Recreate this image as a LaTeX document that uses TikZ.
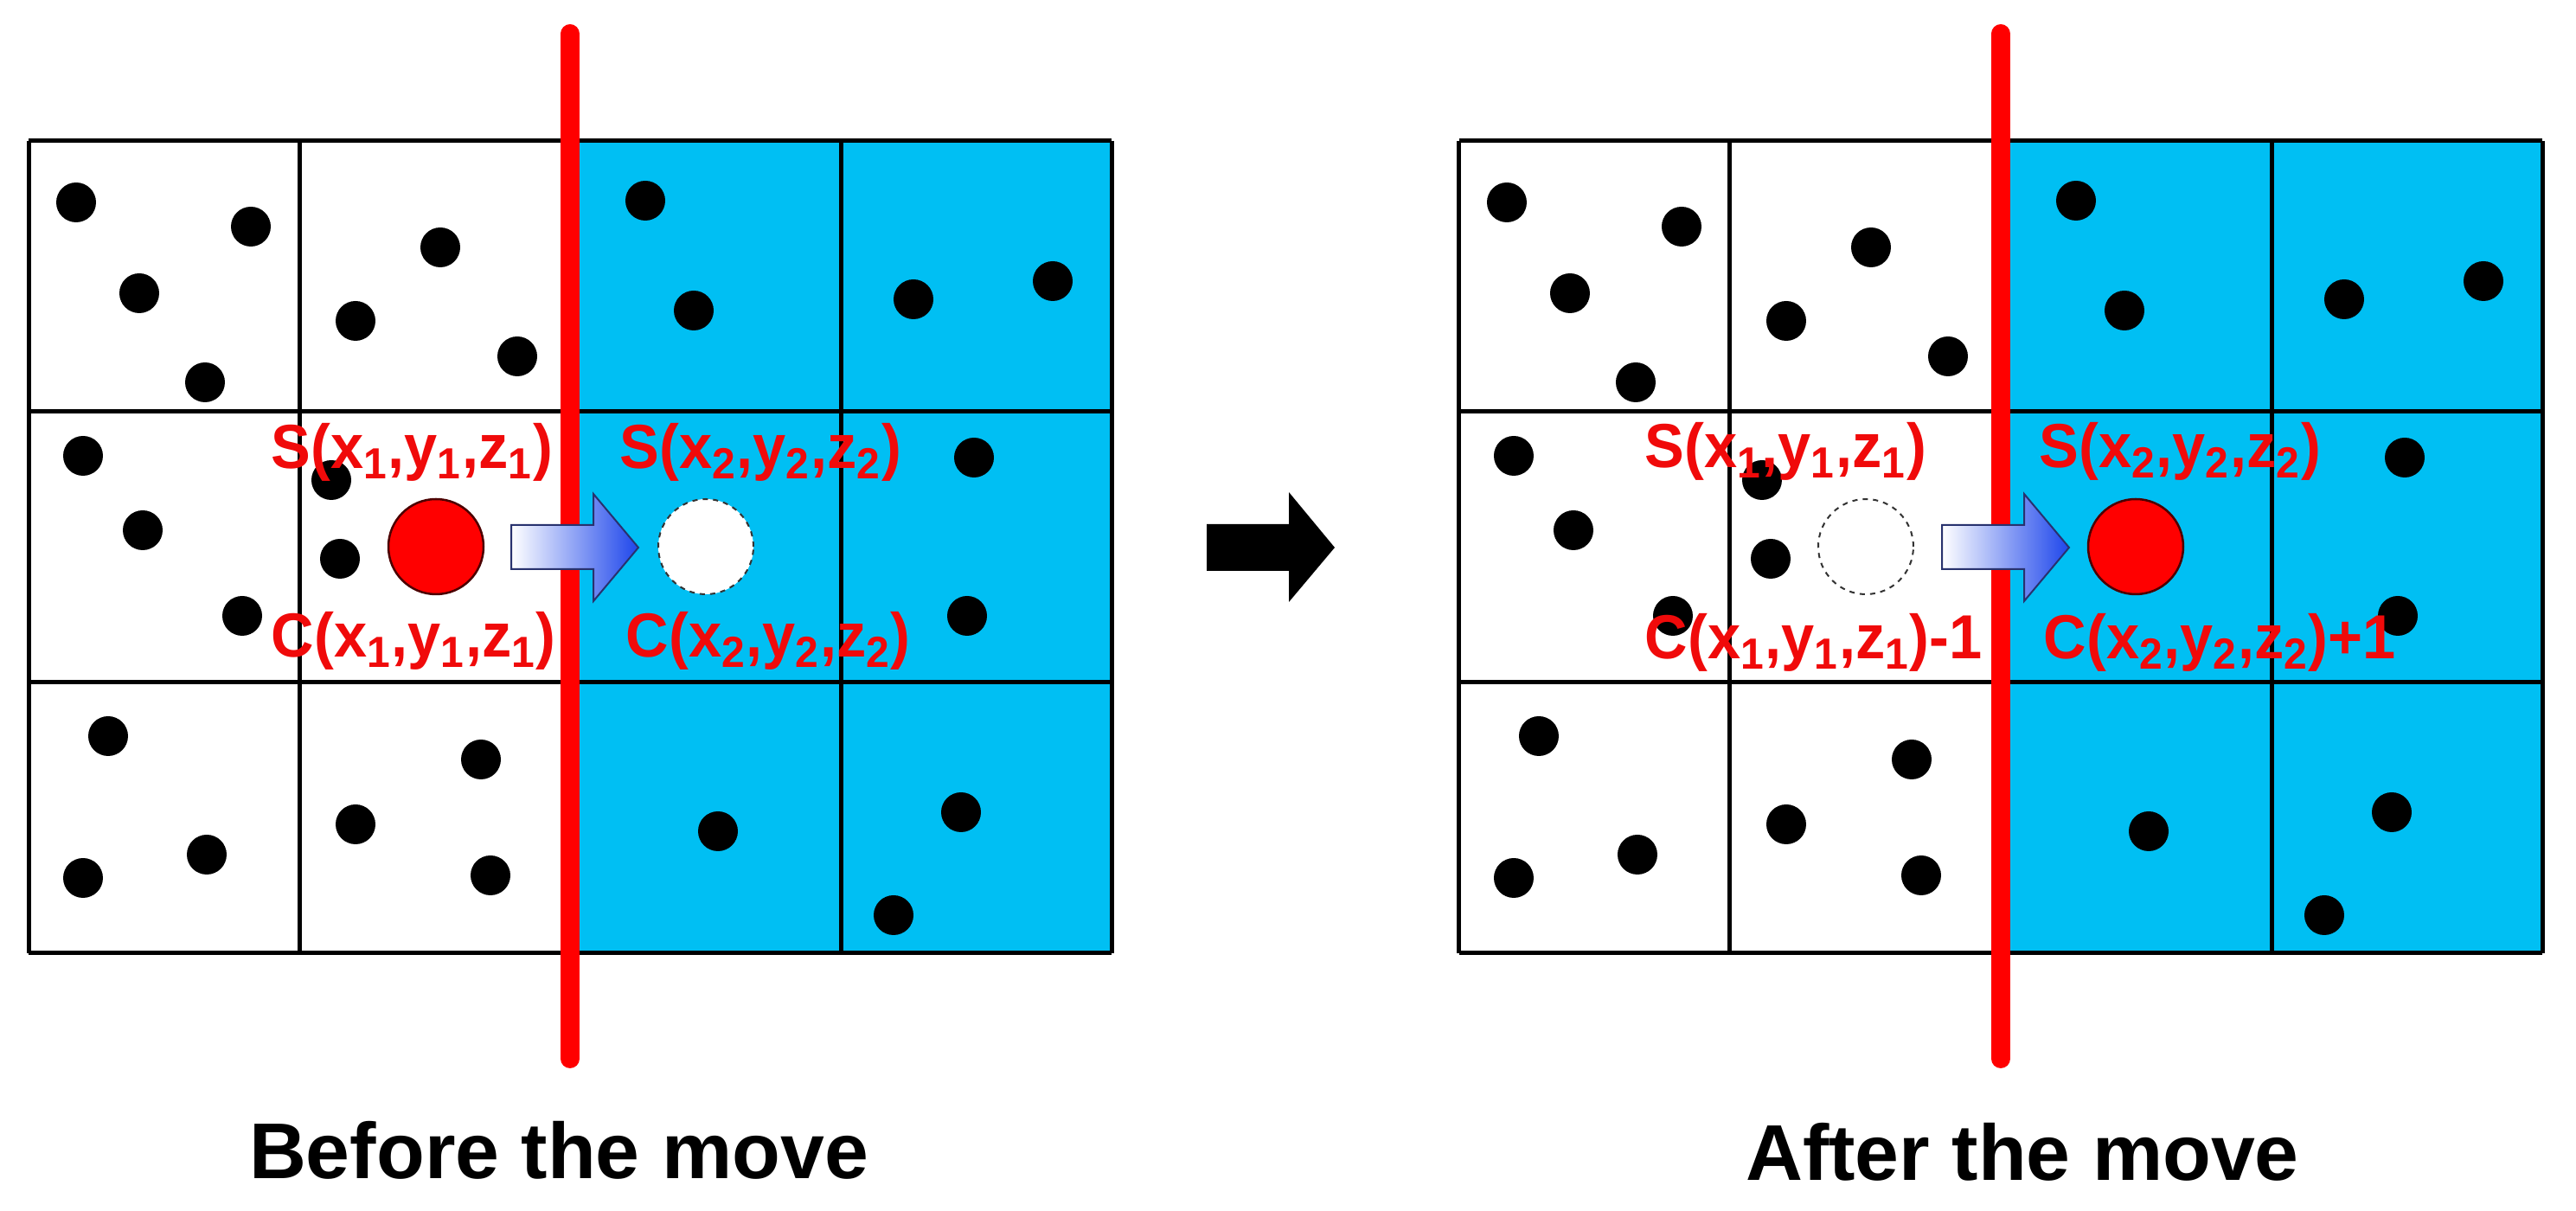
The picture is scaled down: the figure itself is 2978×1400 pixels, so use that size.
\documentclass[tikz,border=0pt]{standalone}
\usepackage{fontspec}
\setmainfont{Liberation Sans}
\definecolor{cellblue}{RGB}{0,191,243}
\definecolor{arrblue}{RGB}{30,70,235}
\definecolor{arredge}{RGB}{40,50,110}
\definecolor{lblred}{RGB}{240,10,10}
\newcommand{\sbs}[1]{\textsubscript{#1}}
\newcommand{\gridpanel}{%
  \fill[cellblue] (659,163) rectangle (1285,1102);
  \foreach \gx in {33,346,659,972,1285} \draw[gridline] (\gx,163) -- (\gx,1102);
  \foreach \gy in {163,476,789,1102} \draw[gridline] (33,\gy) -- (1285,\gy);
  \draw[redline] (659,39) -- (659,1224);
  \foreach \dx/\dy in {88/234,290/262,161/339,237/442,509/286,411/371,598/412,
     746/232,802/359,1056/346,1217/325,96/527,165/613,280/712,383/555,393/646,
     1126/529,1118/712,125/851,96/1015,239/988,556/878,411/953,567/1012,
     830/961,1111/939,1033/1058}
     \fill[black] (\dx,\dy) circle[radius=23];
  \shadedraw[left color=white, right color=arrblue, draw=arredge, line width=0.2mm]
     (591,607) -- (686,607) -- (686,571) -- (738,633) -- (686,695) -- (686,658) -- (591,658) -- cycle;
}
\begin{document}
\begin{tikzpicture}[x=0.1mm,y=-0.1mm,
  gridline/.style={line width=0.5mm, black},
  redline/.style={line width=2.2mm, red, line cap=round},
  lbl/.style={text=lblred, font=\fontsize{19.5}{24}\selectfont\bfseries, inner sep=0pt, anchor=base west, yscale=1.05},
  ttl/.style={font=\fontsize{26}{30}\selectfont\bfseries, inner sep=0pt, anchor=base},
  ball/.style={circle, fill=red, draw=black!70!red, line width=0.25mm, minimum size=11mm, inner sep=0pt},
  ghost/.style={circle, fill=white, draw=black!80, dashed, dash pattern=on 0.6mm off 0.6mm, line width=0.2mm, minimum size=11mm, inner sep=0pt}
]
\useasboundingbox (0,0) rectangle (2978,1400);
\fill[white] (0,0) rectangle (2978,1400);

% ---------- left panel: before the move
\gridpanel
\node[ball] (ballA) at (504,632) {};
\node[ghost] (ghostA) at (816,632) {};
\node[lbl] (sA1) at (313,542) {S(x\sbs{1},y\sbs{1},z\sbs{1})};
\node[lbl] (cA1) at (313,760) {C(x\sbs{1},y\sbs{1},z\sbs{1})};
\node[lbl] (sA2) at (716,542) {S(x\sbs{2},y\sbs{2},z\sbs{2})};
\node[lbl] (cA2) at (723,760) {C(x\sbs{2},y\sbs{2},z\sbs{2})};
\node[ttl] (before) at (646,1363) {Before the move};

% ---------- middle arrow
\fill[black] (1395,606) -- (1490,606) -- (1490,569) -- (1543,633) -- (1490,696) -- (1490,660) -- (1395,660) -- cycle;

% ---------- right panel: after the move
\begin{scope}[xshift=165.4mm]
\gridpanel
\node[ghost] (ghostB) at (503,632) {};
\node[ball] (ballB) at (815,632) {};
\end{scope}
\node[lbl] (sB1) at (1901,541) {S(x\sbs{1},y\sbs{1},z\sbs{1})};
\node[lbl] (cB1) at (1901,762) {C(x\sbs{1},y\sbs{1},z\sbs{1})-1};
\node[lbl] (sB2) at (2357,541) {S(x\sbs{2},y\sbs{2},z\sbs{2})};
\node[lbl] (cB2) at (2362,762) {C(x\sbs{2},y\sbs{2},z\sbs{2})+1};
\node[ttl] (after) at (2338,1365) {After the move};
\end{tikzpicture}
\end{document}
